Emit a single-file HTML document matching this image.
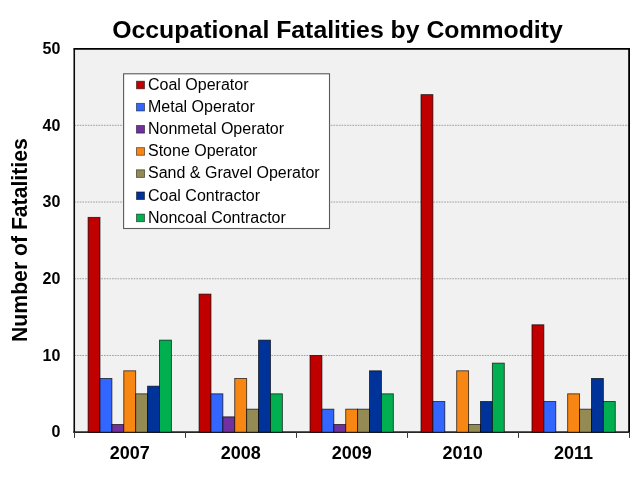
<!DOCTYPE html>
<html><head><meta charset="utf-8"><title>Occupational Fatalities by Commodity</title>
<style>
html,body{margin:0;padding:0;background:#fff;}
body{width:640px;height:480px;overflow:hidden;font-family:"Liberation Sans",sans-serif;}
svg{display:block;will-change:transform;}
text{font-family:"Liberation Sans",sans-serif;fill:#000;}
.b{font-weight:bold;}
</style></head><body>
<svg width="640" height="480" viewBox="0 0 640 480">
<rect x="0" y="0" width="640" height="480" fill="#fff"/>

<rect x="74.25" y="48.95" width="554.85" height="382.95" fill="#F1F1F1"/>
<line x1="74.25" x2="629.1" y1="355.48" y2="355.48" stroke="#A2A2A2" stroke-width="1" stroke-dasharray="1.7,1"/>
<line x1="74.25" x2="629.1" y1="278.76" y2="278.76" stroke="#A2A2A2" stroke-width="1" stroke-dasharray="1.7,1"/>
<line x1="74.25" x2="629.1" y1="202.04" y2="202.04" stroke="#A2A2A2" stroke-width="1" stroke-dasharray="1.7,1"/>
<line x1="74.25" x2="629.1" y1="125.32" y2="125.32" stroke="#A2A2A2" stroke-width="1" stroke-dasharray="1.7,1"/>
<line x1="73.35" x2="630.0" y1="432.05" y2="432.05" stroke="#262626" stroke-width="1.7"/>
<rect x="88.09" y="217.38" width="11.90" height="214.82" fill="#C00000" stroke="#000" stroke-opacity="0.72" stroke-width="0.9"/>
<rect x="99.99" y="378.50" width="11.90" height="53.70" fill="#3366FF" stroke="#000" stroke-opacity="0.72" stroke-width="0.9"/>
<rect x="111.89" y="424.53" width="11.90" height="7.67" fill="#7030A0" stroke="#000" stroke-opacity="0.72" stroke-width="0.9"/>
<rect x="123.79" y="370.82" width="11.90" height="61.38" fill="#F78612" stroke="#000" stroke-opacity="0.72" stroke-width="0.9"/>
<rect x="135.69" y="393.84" width="11.90" height="38.36" fill="#948A54" stroke="#000" stroke-opacity="0.72" stroke-width="0.9"/>
<rect x="147.59" y="386.17" width="11.90" height="46.03" fill="#003399" stroke="#000" stroke-opacity="0.72" stroke-width="0.9"/>
<rect x="159.49" y="340.14" width="11.90" height="92.06" fill="#00B050" stroke="#000" stroke-opacity="0.72" stroke-width="0.9"/>
<rect x="199.06" y="294.10" width="11.90" height="138.10" fill="#C00000" stroke="#000" stroke-opacity="0.72" stroke-width="0.9"/>
<rect x="210.96" y="393.84" width="11.90" height="38.36" fill="#3366FF" stroke="#000" stroke-opacity="0.72" stroke-width="0.9"/>
<rect x="222.86" y="416.86" width="11.90" height="15.34" fill="#7030A0" stroke="#000" stroke-opacity="0.72" stroke-width="0.9"/>
<rect x="234.75" y="378.50" width="11.90" height="53.70" fill="#F78612" stroke="#000" stroke-opacity="0.72" stroke-width="0.9"/>
<rect x="246.66" y="409.18" width="11.90" height="23.02" fill="#948A54" stroke="#000" stroke-opacity="0.72" stroke-width="0.9"/>
<rect x="258.56" y="340.14" width="11.90" height="92.06" fill="#003399" stroke="#000" stroke-opacity="0.72" stroke-width="0.9"/>
<rect x="270.46" y="393.84" width="11.90" height="38.36" fill="#00B050" stroke="#000" stroke-opacity="0.72" stroke-width="0.9"/>
<rect x="310.02" y="355.48" width="11.90" height="76.72" fill="#C00000" stroke="#000" stroke-opacity="0.72" stroke-width="0.9"/>
<rect x="321.92" y="409.18" width="11.90" height="23.02" fill="#3366FF" stroke="#000" stroke-opacity="0.72" stroke-width="0.9"/>
<rect x="333.82" y="424.53" width="11.90" height="7.67" fill="#7030A0" stroke="#000" stroke-opacity="0.72" stroke-width="0.9"/>
<rect x="345.72" y="409.18" width="11.90" height="23.02" fill="#F78612" stroke="#000" stroke-opacity="0.72" stroke-width="0.9"/>
<rect x="357.62" y="409.18" width="11.90" height="23.02" fill="#948A54" stroke="#000" stroke-opacity="0.72" stroke-width="0.9"/>
<rect x="369.52" y="370.82" width="11.90" height="61.38" fill="#003399" stroke="#000" stroke-opacity="0.72" stroke-width="0.9"/>
<rect x="381.42" y="393.84" width="11.90" height="38.36" fill="#00B050" stroke="#000" stroke-opacity="0.72" stroke-width="0.9"/>
<rect x="420.99" y="94.63" width="11.90" height="337.57" fill="#C00000" stroke="#000" stroke-opacity="0.72" stroke-width="0.9"/>
<rect x="432.89" y="401.51" width="11.90" height="30.69" fill="#3366FF" stroke="#000" stroke-opacity="0.72" stroke-width="0.9"/>
<rect x="456.69" y="370.82" width="11.90" height="61.38" fill="#F78612" stroke="#000" stroke-opacity="0.72" stroke-width="0.9"/>
<rect x="468.59" y="424.53" width="11.90" height="7.67" fill="#948A54" stroke="#000" stroke-opacity="0.72" stroke-width="0.9"/>
<rect x="480.49" y="401.51" width="11.90" height="30.69" fill="#003399" stroke="#000" stroke-opacity="0.72" stroke-width="0.9"/>
<rect x="492.39" y="363.15" width="11.90" height="69.05" fill="#00B050" stroke="#000" stroke-opacity="0.72" stroke-width="0.9"/>
<rect x="531.97" y="324.79" width="11.90" height="107.41" fill="#C00000" stroke="#000" stroke-opacity="0.72" stroke-width="0.9"/>
<rect x="543.87" y="401.51" width="11.90" height="30.69" fill="#3366FF" stroke="#000" stroke-opacity="0.72" stroke-width="0.9"/>
<rect x="567.67" y="393.84" width="11.90" height="38.36" fill="#F78612" stroke="#000" stroke-opacity="0.72" stroke-width="0.9"/>
<rect x="579.57" y="409.18" width="11.90" height="23.02" fill="#948A54" stroke="#000" stroke-opacity="0.72" stroke-width="0.9"/>
<rect x="591.47" y="378.50" width="11.90" height="53.70" fill="#003399" stroke="#000" stroke-opacity="0.72" stroke-width="0.9"/>
<rect x="603.37" y="401.51" width="11.90" height="30.69" fill="#00B050" stroke="#000" stroke-opacity="0.72" stroke-width="0.9"/>
<path d="M73.45 48.95 H629.1 V431.9" fill="none" stroke="#000" stroke-width="1.8"/>
<line x1="74.25" x2="74.25" y1="48.95" y2="432.7" stroke="#0a0a0a" stroke-width="1.6"/>
<line x1="74.50" x2="74.50" y1="431.9" y2="437.9" stroke="#383838" stroke-width="1"/>
<line x1="185.50" x2="185.50" y1="431.9" y2="437.9" stroke="#383838" stroke-width="1"/>
<line x1="296.50" x2="296.50" y1="431.9" y2="437.9" stroke="#383838" stroke-width="1"/>
<line x1="407.50" x2="407.50" y1="431.9" y2="437.9" stroke="#383838" stroke-width="1"/>
<line x1="518.50" x2="518.50" y1="431.9" y2="437.9" stroke="#383838" stroke-width="1"/>
<line x1="629.50" x2="629.50" y1="431.9" y2="437.9" stroke="#383838" stroke-width="1"/>
<text class="b" x="60.3" y="436.6" font-size="16" text-anchor="end">0</text>
<text class="b" x="60.3" y="360.6" font-size="16" text-anchor="end">10</text>
<text class="b" x="60.3" y="283.6" font-size="16" text-anchor="end">20</text>
<text class="b" x="60.3" y="206.6" font-size="16" text-anchor="end">30</text>
<text class="b" x="60.3" y="130.6" font-size="16" text-anchor="end">40</text>
<text class="b" x="60.3" y="53.6" font-size="16" text-anchor="end">50</text>
<text class="b" x="129.74" y="459.1" font-size="18" text-anchor="middle">2007</text>
<text class="b" x="240.70" y="459.1" font-size="18" text-anchor="middle">2008</text>
<text class="b" x="351.68" y="459.1" font-size="18" text-anchor="middle">2009</text>
<text class="b" x="462.64" y="459.1" font-size="18" text-anchor="middle">2010</text>
<text class="b" x="573.62" y="459.1" font-size="18" text-anchor="middle">2011</text>
<text class="b" x="337.5" y="37.5" font-size="24.8" text-anchor="middle">Occupational Fatalities by Commodity</text>
<text class="b" transform="translate(27.1,240.1) rotate(-90)" font-size="21.2" text-anchor="middle">Number of Fatalities</text>
<rect x="123.6" y="73.8" width="205.9" height="154.7" fill="#fff" stroke="#5A5A5A" stroke-width="1.1"/>
<rect x="136.5" y="81.20" width="8" height="7.6" fill="#C00000" stroke="#000" stroke-opacity="0.55" stroke-width="0.9"/>
<text x="148" y="89.85" font-size="16">Coal Operator</text>
<rect x="136.5" y="103.35" width="8" height="7.6" fill="#3366FF" stroke="#000" stroke-opacity="0.55" stroke-width="0.9"/>
<text x="148" y="112.00" font-size="16">Metal Operator</text>
<rect x="136.5" y="125.50" width="8" height="7.6" fill="#7030A0" stroke="#000" stroke-opacity="0.55" stroke-width="0.9"/>
<text x="148" y="134.15" font-size="16">Nonmetal Operator</text>
<rect x="136.5" y="147.65" width="8" height="7.6" fill="#F78612" stroke="#000" stroke-opacity="0.55" stroke-width="0.9"/>
<text x="148" y="156.30" font-size="16">Stone Operator</text>
<rect x="136.5" y="169.80" width="8" height="7.6" fill="#948A54" stroke="#000" stroke-opacity="0.55" stroke-width="0.9"/>
<text x="148" y="178.45" font-size="16">Sand &amp; Gravel Operator</text>
<rect x="136.5" y="191.95" width="8" height="7.6" fill="#003399" stroke="#000" stroke-opacity="0.55" stroke-width="0.9"/>
<text x="148" y="200.60" font-size="16">Coal Contractor</text>
<rect x="136.5" y="214.10" width="8" height="7.6" fill="#00B050" stroke="#000" stroke-opacity="0.55" stroke-width="0.9"/>
<text x="148" y="222.75" font-size="16">Noncoal Contractor</text>
</svg></body></html>
